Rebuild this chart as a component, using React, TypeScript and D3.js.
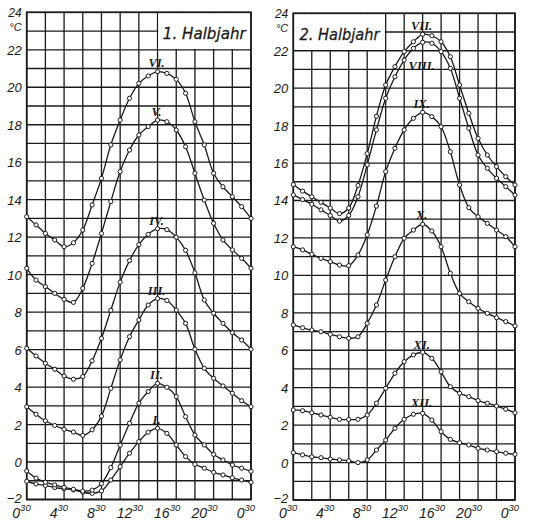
import React from 'react';
import * as d3 from 'd3';

const HOURS = [0.5, 1.5, 2.5, 3.5, 4.5, 5.5, 6.5, 7.5, 8.5, 9.5, 10.5, 11.5, 12.5, 13.5, 14.5, 15.5, 16.5, 17.5, 18.5, 19.5, 20.5, 21.5, 22.5, 23.5, 24.5];
const TEMP_TICKS = [24, 22, 20, 18, 16, 14, 12, 10, 8, 6, 4, 2, 0, -2];
const TIME_TICKS = [0.5, 4.5, 8.5, 12.5, 16.5, 20.5, 24.5];
const TIME_TICK_LABELS = ['0', '4', '8', '12', '16', '20', '0'];
const TIME_TICK_SUP = '30';

// 1. Halbjahr
const JAN = [-1.03, -1.17, -1.25, -1.36, -1.43, -1.49, -1.61, -1.67, -1.54, -0.96, -0.25, 0.47, 1.09, 1.59, 1.8, 1.53, 0.91, 0.29, -0.12, -0.33, -0.55, -0.69, -0.84, -0.96, -1.08];
const FEB = [-0.48, -0.86, -1.08, -1.22, -1.35, -1.45, -1.55, -1.5, -1.15, -0.3, 0.9, 2.07, 3.14, 3.76, 4.2, 3.99, 3.49, 2.42, 1.44, 0.91, 0.41, 0.11, -0.16, -0.33, -0.5];
const MAR = [2.95, 2.55, 2.2, 1.95, 1.75, 1.6, 1.42, 1.72, 2.45, 3.93, 5.45, 6.69, 7.58, 8.38, 8.72, 8.62, 8.11, 7.4, 6.02, 5.0, 4.47, 4.06, 3.67, 3.27, 2.95];
const APR = [6.07, 5.66, 5.27, 4.95, 4.59, 4.42, 4.56, 5.4, 6.6, 8.1, 9.6, 10.75, 11.6, 12.15, 12.45, 12.4, 12.0, 11.3, 10.1, 8.65, 7.94, 7.4, 6.9, 6.51, 6.02];
const MAY = [10.34, 9.71, 9.36, 9.0, 8.68, 8.52, 9.27, 10.6, 12.2, 13.9, 15.5, 16.65, 17.45, 17.9, 18.25, 18.16, 17.72, 16.83, 15.41, 13.98, 12.74, 11.85, 11.32, 10.87, 10.34];
const JUN = [13.09, 12.65, 12.2, 11.85, 11.49, 11.7, 12.38, 13.72, 15.14, 16.92, 18.25, 19.41, 20.21, 20.6, 20.83, 20.74, 20.42, 19.68, 18.16, 16.92, 15.41, 14.69, 14.16, 13.63, 13.0];
// 2. Halbjahr
const JUL = [14.85, 14.5, 14.2, 13.9, 13.6, 13.3, 13.6, 14.8, 16.5, 18.5, 20.17, 21.15, 21.95, 22.48, 22.88, 22.8, 22.48, 21.68, 20.17, 18.66, 17.32, 16.43, 15.81, 15.27, 14.83];
const AUG = [14.3, 14.05, 13.8, 13.5, 13.2, 12.9, 13.2, 14.2, 15.9, 17.77, 19.46, 20.61, 21.5, 22.13, 22.45, 22.4, 21.95, 21.06, 19.46, 17.86, 16.43, 15.72, 15.19, 14.74, 14.29];
const SEP = [11.53, 11.36, 11.13, 10.91, 10.73, 10.55, 10.52, 11.09, 12.16, 13.7, 15.54, 16.79, 17.77, 18.39, 18.71, 18.48, 17.94, 16.6, 14.83, 13.62, 13.13, 12.78, 12.42, 12.07, 11.53];
const OCT = [7.35, 7.2, 7.08, 6.99, 6.85, 6.72, 6.64, 6.72, 7.44, 8.42, 9.75, 11.0, 11.98, 12.42, 12.73, 12.37, 11.53, 10.11, 9.04, 8.59, 8.24, 7.97, 7.74, 7.53, 7.3];
const NOV = [2.81, 2.77, 2.66, 2.54, 2.42, 2.31, 2.3, 2.31, 2.54, 3.17, 3.97, 4.77, 5.39, 5.75, 5.89, 5.57, 4.85, 4.05, 3.7, 3.52, 3.31, 3.17, 3.02, 2.85, 2.66];
const DEC = [0.53, 0.41, 0.31, 0.26, 0.19, 0.14, 0.09, 0.0, 0.14, 0.67, 1.2, 1.83, 2.31, 2.58, 2.63, 2.27, 1.65, 1.24, 1.06, 0.94, 0.76, 0.67, 0.58, 0.5, 0.44];

const NAMES_1 = ['I.', 'II.', 'III.', 'IV.', 'V.', 'VI.'];
const NAMES_2 = ['VII.', 'VIII.', 'IX.', 'X.', 'XI.', 'XII.'];
const TITLE_1 = '1. Halbjahr';
const TITLE_2 = '2. Halbjahr';

const INK = '#1a1a1a';

type PanelProps = {
  left: number; right: number; top: number; bottom: number;
  series: number[][]; names: string[]; labelDy: number[];
  title: string; titleHours: [number, number]; titleW: number;
};

function Panel(p: PanelProps) {
  const x = d3.scaleLinear().domain([0.5, 24.5]).range([p.left, p.right]);
  const y = d3.scaleLinear().domain([-2, 24]).range([p.bottom, p.top]);
  const vGrid = d3.range(0.5, 24.6, 2);
  const hGrid = d3.range(-2, 24.1, 1);
  const line = d3.line<number>()
    .x((_, i) => x(HOURS[i]))
    .y((d) => y(d))
    .curve(d3.curveCatmullRom.alpha(0.5));
  const bx0 = x(p.titleHours[0]);
  const bx1 = x(p.titleHours[1]);
  const by0 = y(24);
  const by1 = y(22);
  const numFont = '"Liberation Sans", Arial, sans-serif';
  const tickDy = (t: number) => (t === 24 ? 4.5 : t === -2 ? 3 : 5);
  return (
    <g>
      {vGrid.map((h) => (
        <line key={'v' + h} x1={x(h)} x2={x(h)} y1={p.top} y2={p.bottom} stroke={INK} strokeWidth={1.3} />
      ))}
      {hGrid.map((t) => (
        <line key={'h' + t} x1={p.left} x2={p.right} y1={y(t)} y2={y(t)} stroke={INK} strokeWidth={1.3} />
      ))}
      <rect x={Math.min(bx0, bx1) + 0.8} y={by0 + 0.8} width={Math.abs(bx1 - bx0) - 1.6} height={by1 - by0 - 1.6} fill="#fff" />
      <text x={(bx0 + bx1) / 2} y={by0 + 27} textAnchor="middle" fontFamily='"DejaVu Sans", sans-serif' fontStyle="italic" fontSize={16}
        textLength={p.titleW} lengthAdjust="spacingAndGlyphs" fill={INK} stroke={INK} strokeWidth={0.3}>{p.title}</text>
      <rect x={p.left} y={p.top} width={p.right - p.left} height={p.bottom - p.top} fill="none" stroke={INK} strokeWidth={1.7} />
      {TEMP_TICKS.map((t) => (
        <text key={'yt' + t} x={p.left - 5} y={y(t) + tickDy(t)} textAnchor="end" fontFamily={numFont} fontStyle="italic" fontSize={t === 24 ? 12 : 13} fill={INK}>{t < 0 ? '\u2212' + Math.abs(t) : String(t)}</text>
      ))}
      <text x={p.left - 5} y={y(24) + 19} textAnchor="end" fontFamily={numFont} fontStyle="italic" fontSize={11} fill={INK}>°C</text>
      {TIME_TICKS.map((h, i) => (
        <text key={'xt' + i} y={518} fontFamily={numFont} fontStyle="italic" fill={INK}>
          <tspan x={x(h) + 4} textAnchor="end" fontSize={14}>{TIME_TICK_LABELS[i]}</tspan>
          <tspan dy={-7} fontSize={9.5}>{TIME_TICK_SUP}</tspan>
        </text>
      ))}
      {p.series.map((s, i) => (
        <path key={'c' + i} d={line(s) || ''} fill="none" stroke={INK} strokeWidth={1.3} />
      ))}
      {p.series.map((s, i) => (
        <g key={'p' + i}>
          {s.map((v, j) => (
            <circle key={j} cx={x(HOURS[j])} cy={y(v)} r={2.1} fill="#fff" stroke={INK} strokeWidth={1} />
          ))}
        </g>
      ))}
      {p.series.map((s, i) => {
        const k = d3.maxIndex(s);
        return (
          <text key={'n' + i} x={x(HOURS[k]) - 1} y={y(s[k]) + p.labelDy[i]} textAnchor="middle"
            fontFamily='"Liberation Serif", serif' fontStyle="italic" fontWeight="bold" fontSize={12.5} fill={INK}>{p.names[i]}</text>
        );
      })}
    </g>
  );
}

export default function App() {
  return (
    <svg width={533} height={528} viewBox="0 0 533 528" style={{ position: 'absolute', left: 0, top: 0, background: '#fff' }}>
      <rect x={0} y={0} width={533} height={528} fill="#fff" />
      <Panel left={26.7} right={251} top={12.3} bottom={499.5}
        series={[JAN, FEB, MAR, APR, MAY, JUN]} names={NAMES_1} labelDy={[-4, -4, -4, -4, -4, -5]}
        title={TITLE_1} titleHours={[14.5, 24.5]} titleW={83} />
      <Panel left={293.3} right={515} top={13.3} bottom={500}
        series={[JUL, AUG, SEP, OCT, NOV, DEC]} names={NAMES_2} labelDy={[-4, 28, -4, -5, -3, -6]}
        title={TITLE_2} titleHours={[0.5, 10.5]} titleW={80} />
    </svg>
  );
}
